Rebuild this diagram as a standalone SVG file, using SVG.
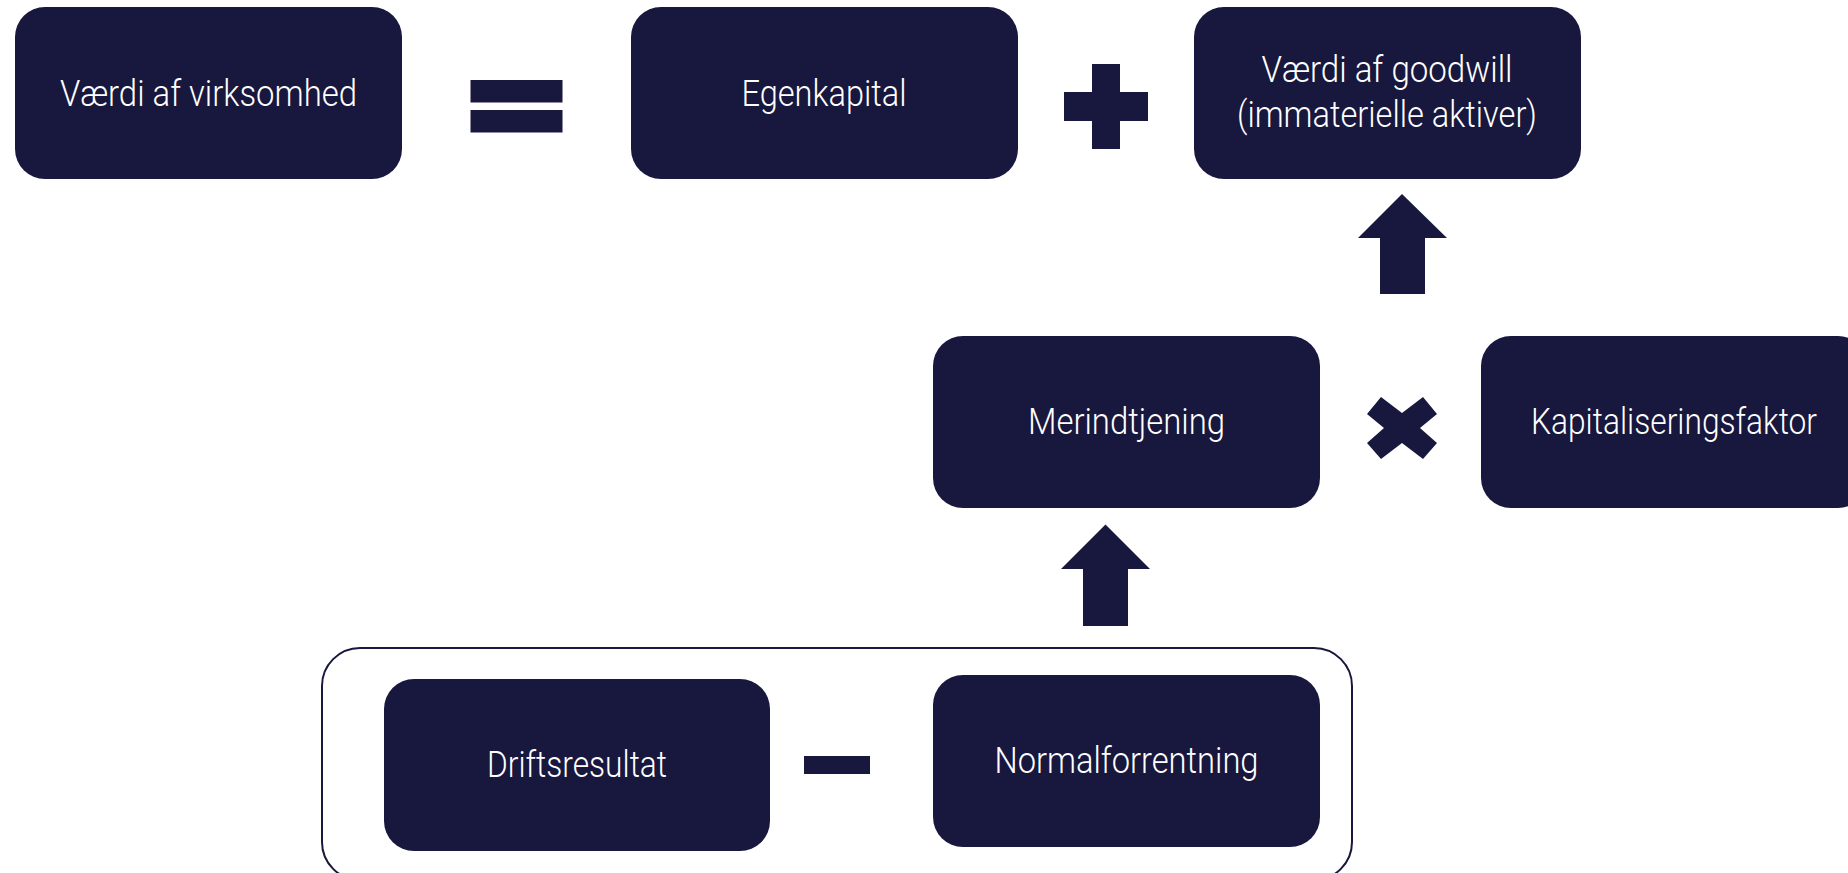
<svg xmlns="http://www.w3.org/2000/svg" width="1848" height="873" viewBox="0 0 1848 873">
<style>
.box{fill:#18173E}
.op{fill:#18173E}
.t{font-family:Roboto,"Open Sans","Liberation Sans",sans-serif;font-weight:300;font-size:36px;fill:#FFFFFF;text-anchor:middle}
</style>
<rect width="1848" height="873" fill="#FFFFFF"/>
<g id="group-frame">
<rect x="322" y="648" width="1030" height="232" rx="38" ry="38" fill="none" stroke="#18173E" stroke-width="2"/>
</g>
<g id="node-vaerdi-virksomhed">
<rect class="box" x="15" y="7" width="387" height="172" rx="30"/>
<text class="t" x="208.5" y="106" textLength="297" lengthAdjust="spacingAndGlyphs">Værdi af virksomhed</text>
</g>
<g id="node-egenkapital">
<rect class="box" x="631" y="7" width="387" height="172" rx="30"/>
<text class="t" x="824" y="106" textLength="165" lengthAdjust="spacingAndGlyphs">Egenkapital</text>
</g>
<g id="node-goodwill">
<rect class="box" x="1194" y="7" width="387" height="172" rx="30"/>
<text class="t" x="1387" y="82" textLength="251" lengthAdjust="spacingAndGlyphs">Værdi af goodwill</text>
<text class="t" x="1387" y="127" textLength="300" lengthAdjust="spacingAndGlyphs">(immaterielle aktiver)</text>
</g>
<g id="node-merindtjening">
<rect class="box" x="933" y="336" width="387" height="172" rx="30"/>
<text class="t" x="1126.5" y="434" textLength="197" lengthAdjust="spacingAndGlyphs">Merindtjening</text>
</g>
<g id="node-kapitaliseringsfaktor">
<rect class="box" x="1481" y="336" width="387" height="172" rx="30"/>
<text class="t" x="1674" y="434" textLength="286" lengthAdjust="spacingAndGlyphs">Kapitaliseringsfaktor</text>
</g>
<g id="node-driftsresultat">
<rect class="box" x="384" y="679" width="386" height="172" rx="30"/>
<text class="t" x="577" y="777" textLength="180" lengthAdjust="spacingAndGlyphs">Driftsresultat</text>
</g>
<g id="node-normalforrentning">
<rect class="box" x="933" y="675" width="387" height="172" rx="30"/>
<text class="t" x="1126.5" y="773" textLength="264" lengthAdjust="spacingAndGlyphs">Normalforrentning</text>
</g>
<g id="connectors">
<rect class="op" x="470.5" y="80" width="92" height="22.5"/>
<rect class="op" x="470.5" y="110" width="92" height="22.5"/>
<polygon class="op" points="1092,64 1120,64 1120,92 1148,92 1148,121 1120,121 1120,149 1092,149 1092,121 1064,121 1064,92 1092,92"/>
<polygon class="op" points="1402,194 1447,238 1425,238 1425,294 1380,294 1380,238 1358,238"/>
<polygon class="op" points="1381,397 1402,413 1423,397 1437,414 1420,428 1437,443 1423,459 1402,443 1381,459 1367,443 1384,428 1367,414"/>
<polygon class="op" points="1105.5,524.5 1150,569 1128,569 1128,626 1083,626 1083,569 1061,569"/>
<rect class="op" x="804" y="756" width="66" height="18"/>
</g>
</svg>
